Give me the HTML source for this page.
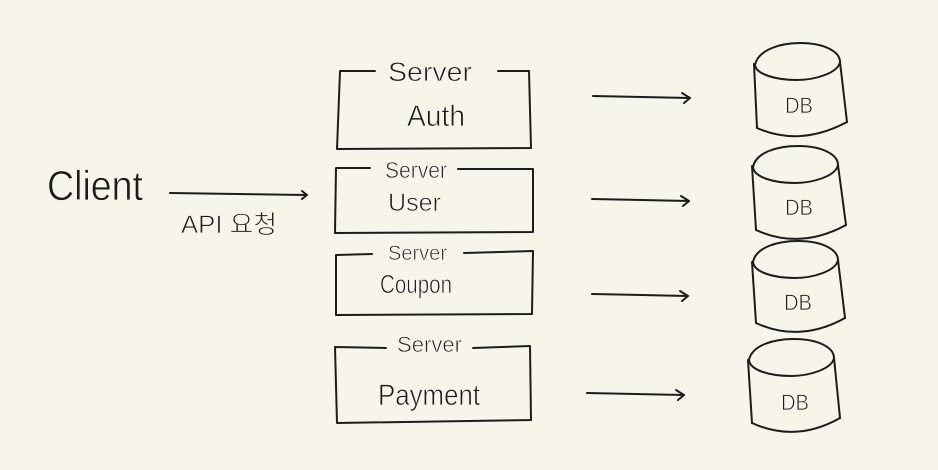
<!DOCTYPE html>
<html><head><meta charset="utf-8"><style>
html,body{margin:0;padding:0;background:#f7f5ea;}
svg{display:block;}
text{font-family:"Liberation Sans","Noto Sans CJK KR",sans-serif;fill:#1c1c1c;stroke:#f7f5ea;stroke-width:0.7px;}
</style></head><body>
<svg width="938" height="470" viewBox="0 0 938 470" xmlns="http://www.w3.org/2000/svg">
<rect width="938" height="470" fill="#f7f5ea"/>
<g fill="none" stroke="#1c1c1c" stroke-width="2" stroke-linecap="round" stroke-linejoin="round">
<!-- Client arrow -->
<path d="M170 193 L306 195"/>
<path d="M302 191 L307 195 L302 199"/>
<!-- Box 1 Auth -->
<path d="M375 71 L340 71 L337 149 L531 148 L529 71 L498 71"/>
<!-- Box 2 User -->
<path d="M370 168 L336 168 L335 233 L533 232 L533 169 L458 169"/>
<!-- Box 3 Coupon -->
<path d="M372 254 L336 255 L336 315 L532 314 L533 251 L464 253"/>
<!-- Box 4 Payment -->
<path d="M386 348 L335 347 L337 423 L531 420 L530 346 L473 348"/>
<!-- arrows to DB -->
<path d="M593 96 L690 98"/><path d="M682 93 L690 98 L684 103"/>
<path d="M592 199 L689 201"/><path d="M681 196 L689 201 L683 206"/>
<path d="M592 294 L688 296"/><path d="M680 291 L688 296 L682 301"/>
<path d="M587 393 L684 395"/><path d="M676 390 L684 395 L678 400"/>
<!-- DB 1 -->
<path d="M755 65 C758 50 780 43 800 43 C825 43 840 52 840 62 C838 73 815 80 797 80 C775 80 756 74 755 65 Z"/>
<path d="M754 64 L757 128"/><path d="M840 62 L847 122"/>
<path d="M757 128 Q800 147 847 122"/>
<!-- DB 2 -->
<path d="M753 167 C756 152 778 146 798 146 C823 146 838 155 838 165 C836 176 813 183 795 183 C773 183 754 177 753 167 Z"/>
<path d="M752 166 L756 230"/><path d="M838 165 L846 225"/>
<path d="M756 230 Q800 250 846 225"/>
<!-- DB 3 -->
<path d="M753 262 C756 247 778 241 798 241 C823 241 838 250 838 260 C836 271 813 278 795 278 C773 278 754 272 753 262 Z"/>
<path d="M752 262 L756 323"/><path d="M838 260 L845 318"/>
<path d="M756 323 Q800 343 845 318"/>
<!-- DB 4 -->
<path d="M749 360 C752 345 774 339 794 339 C819 339 834 348 834 358 C832 369 809 376 791 376 C769 376 750 370 749 360 Z"/>
<path d="M748 360 L752 423"/><path d="M834 358 L840 418"/>
<path d="M752 423 Q796 443 840 418"/>
</g>
<!-- Labels -->
<text x="47" y="200" font-size="42" textLength="96" lengthAdjust="spacingAndGlyphs">Client</text>
<text x="181" y="233" font-size="25" textLength="96" lengthAdjust="spacingAndGlyphs">API 요청</text>

<text x="388" y="81" font-size="27" textLength="84" lengthAdjust="spacingAndGlyphs">Server</text>
<text x="407" y="126" font-size="30" textLength="58" lengthAdjust="spacingAndGlyphs">Auth</text>

<text x="385" y="178" font-size="23" textLength="62" lengthAdjust="spacingAndGlyphs">Server</text>
<text x="388" y="211" font-size="25" textLength="53" lengthAdjust="spacingAndGlyphs">User</text>

<text x="388" y="260" font-size="21" textLength="59" lengthAdjust="spacingAndGlyphs">Server</text>
<text x="380" y="293" font-size="26" textLength="72" lengthAdjust="spacingAndGlyphs">Coupon</text>

<text x="397" y="352" font-size="22" textLength="65" lengthAdjust="spacingAndGlyphs">Server</text>
<text x="378" y="405" font-size="30" textLength="102" lengthAdjust="spacingAndGlyphs">Payment</text>

<text x="785" y="113" font-size="22" textLength="28" lengthAdjust="spacingAndGlyphs">DB</text>
<text x="785" y="215" font-size="22" textLength="28" lengthAdjust="spacingAndGlyphs">DB</text>
<text x="784" y="310" font-size="22" textLength="28" lengthAdjust="spacingAndGlyphs">DB</text>
<text x="781" y="410" font-size="22" textLength="28" lengthAdjust="spacingAndGlyphs">DB</text>
</svg>
</body></html>
